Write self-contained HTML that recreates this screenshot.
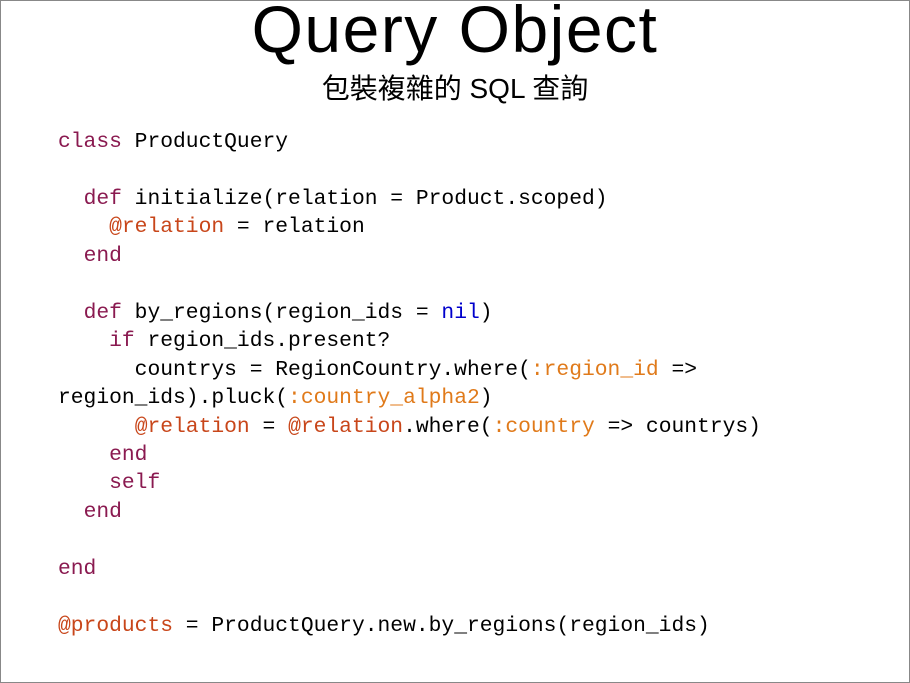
<!DOCTYPE html>
<html><head><meta charset="utf-8"><style>
html,body{margin:0;padding:0;background:#fff;}
#p{position:relative;width:908px;height:681px;border:1px solid #888;overflow:hidden;}
#t{position:absolute;left:0;width:908px;top:-10px;text-align:center;font:66px "Liberation Sans",sans-serif;color:#000;letter-spacing:1.5px;}
#s{position:absolute;left:0;width:908px;top:66px;text-align:center;font:28px "Liberation Sans","Noto Sans CJK TC",sans-serif;color:#000;}
pre{position:absolute;left:57px;top:127px;margin:0;font:21.3px/28.45px "Liberation Mono",monospace;color:#000;}
.k{color:#8a1a50}.i{color:#c8461a}.y{color:#e07a1a}.n{color:#0000cc}
</style></head><body><div id="p">
<div id="t">Query Object</div>
<div id="s">包裝複雜的 SQL 查詢</div>
<pre><span class="k">class</span> ProductQuery

  <span class="k">def</span> initialize(relation = Product.scoped)
    <span class="i">@relation</span> = relation
  <span class="k">end</span>

  <span class="k">def</span> by_regions(region_ids = <span class="n">nil</span>)
    <span class="k">if</span> region_ids.present?
      countrys = RegionCountry.where(<span class="y">:region_id</span> =&gt;
region_ids).pluck(<span class="y">:country_alpha2</span>)
      <span class="i">@relation</span> = <span class="i">@relation</span>.where(<span class="y">:country</span> =&gt; countrys)
    <span class="k">end</span>
    <span class="k">self</span>
  <span class="k">end</span>

<span class="k">end</span>

<span class="i">@products</span> = ProductQuery.new.by_regions(region_ids)</pre>
</div></body></html>
